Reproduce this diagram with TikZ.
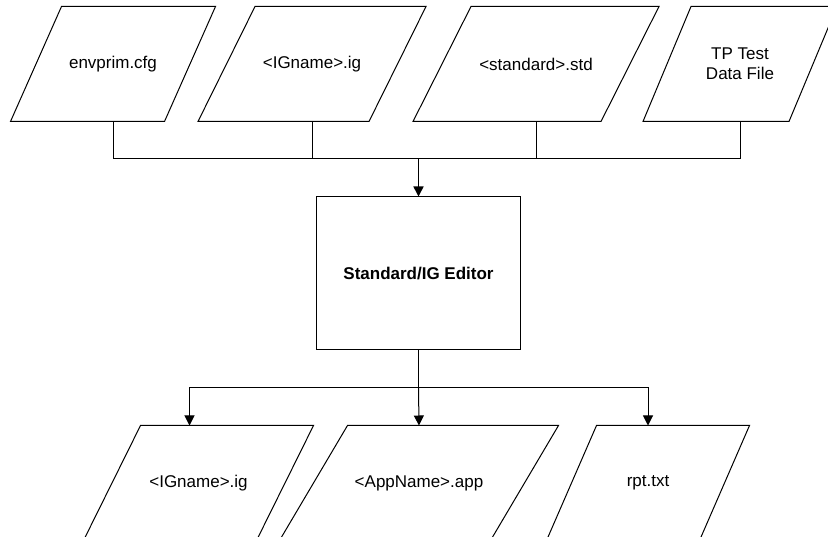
\documentclass[tikz,border=0pt]{standalone}
\usepackage{fontspec}
\setmainfont{Liberation Sans}
\usetikzlibrary{arrows.meta}

\begin{document}
\begin{tikzpicture}[
    x=1pt, y=-1pt,
    line width=1pt,
    font=\fontsize{17}{20}\selectfont,
    datafile/.style={rectangle, minimum height=114, inner sep=0pt, align=center},
    editor/.style={rectangle, draw=black, minimum width=204, minimum height=153, font=\fontsize{17}{20}\selectfont\bfseries},
    flow/.style={-{Triangle[width=10pt,length=10pt]}},
]
\useasboundingbox (0,0) rectangle (828,537);
\clip (0,0) rectangle (828,537);

% input files
\node[datafile, minimum width=153] (cfg) at (113,64) {envprim.cfg};
\node[datafile, minimum width=170] (ig) at (312,64) {<IGname>.ig};
\node[datafile, minimum width=187] (std) at (536,64) {<standard>.std};
\node[datafile, minimum width=145] (tp) at (740,64) {TP Test\\Data File};

\node[editor] (edit) at (418.5,273.5) {Standard/IG Editor};

% output files
\node[datafile, minimum width=172] (igout) at (198.5,483) {<IGname>.ig};
\node[datafile, minimum width=210] (app) at (419,483) {<AppName>.app};
\node[datafile, minimum width=152] (rpt) at (648,483) {rpt.txt};

% slanted outlines
\foreach \n/\s in {cfg/51, ig/57, std/58, tp/48, igout/57, app/68, rpt/50}
  \draw ([xshift=\s*0.5pt]\n.north west) -- ([xshift=\s*0.5pt]\n.north east)
     -- ([xshift=-\s*0.5pt]\n.south east) -- ([xshift=-\s*0.5pt]\n.south west) -- cycle;

\coordinate (bus) at (418.5,159);
\coordinate (split) at (418.5,388);

\draw (cfg.south) |- (bus);
\draw (tp.south) |- (bus);
\draw (ig.south) -- (ig |- bus);
\draw (std.south) -- (std |- bus);
\draw[flow, line width=1.6pt] (bus) -- (edit.north);

\draw (edit.south) -- (split);
\draw[flow] (split) -| ([xshift=-9pt]igout.north);
\draw[flow] (split) -- (app.north);
\draw[flow] (split) -| (rpt.north);

\end{tikzpicture}
\end{document}
